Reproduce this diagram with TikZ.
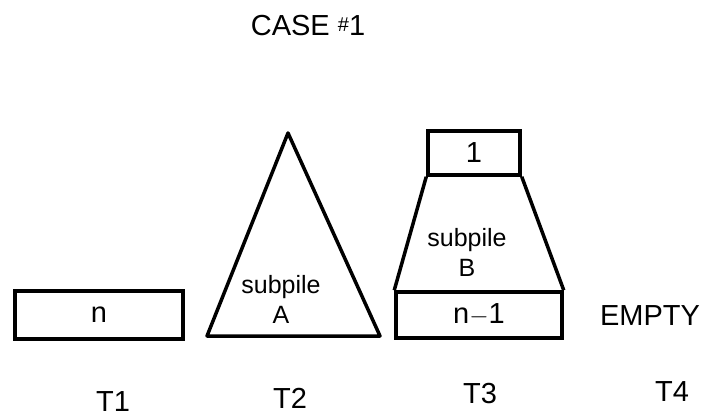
\documentclass[tikz,border=0pt]{standalone}
\usepackage{fontspec}
\setmainfont{Liberation Sans}
\usetikzlibrary{positioning}

\begin{document}
\begin{tikzpicture}[
  x=1pt, y=-1pt,
  pile/.style={draw, line width=3.5pt, inner sep=0pt, font=\fontsize{29}{34}\selectfont},
  lbl/.style={inner sep=0pt, font=\fontsize{29}{34}\selectfont},
  sub/.style={inner sep=0pt, align=center, font=\fontsize{25}{30}\selectfont},
  edge/.style={line width=3.5pt, line join=round}
]
\useasboundingbox (0,0) rectangle (703,419);
\node[lbl] (title) at (308,26) {CASE \raisebox{4pt}{\fontsize{20}{20}\selectfont\#}1};
% tower T1
\node[pile, minimum width=168pt, minimum height=48pt] (pn) at (99,315) {n};
% tower T2
\coordinate (apex) at (288,133);
\coordinate (baseL) at (207,336);
\coordinate (baseR) at (380,336);
\draw[edge] (apex) -- (baseR) -- (baseL) -- cycle;
\node[sub] (subA) at (281,299) {subpile\\A};
% tower T3
\node[pile, minimum width=92pt, minimum height=44pt] (p1) at (474,153) {1};
\node[pile, minimum width=166pt, minimum height=46pt] (pm) at (479,315) {n$-$1};
\draw[edge] (p1.south west) -- (pm.north west);
\draw[edge] (p1.south east) -- (pm.north east);
\node[sub] (subB) at (467,252) {subpile\\B};
% tower T4
\node[lbl] (empty) at (650,316) {EMPTY};
% tower names
\node[lbl] (t1) at (113,402) {T1};
\node[lbl] (t2) at (290,398) {T2};
\node[lbl] (t3) at (480,394) {T3};
\node[lbl] (t4) at (672,392) {T4};
\end{tikzpicture}
\end{document}
